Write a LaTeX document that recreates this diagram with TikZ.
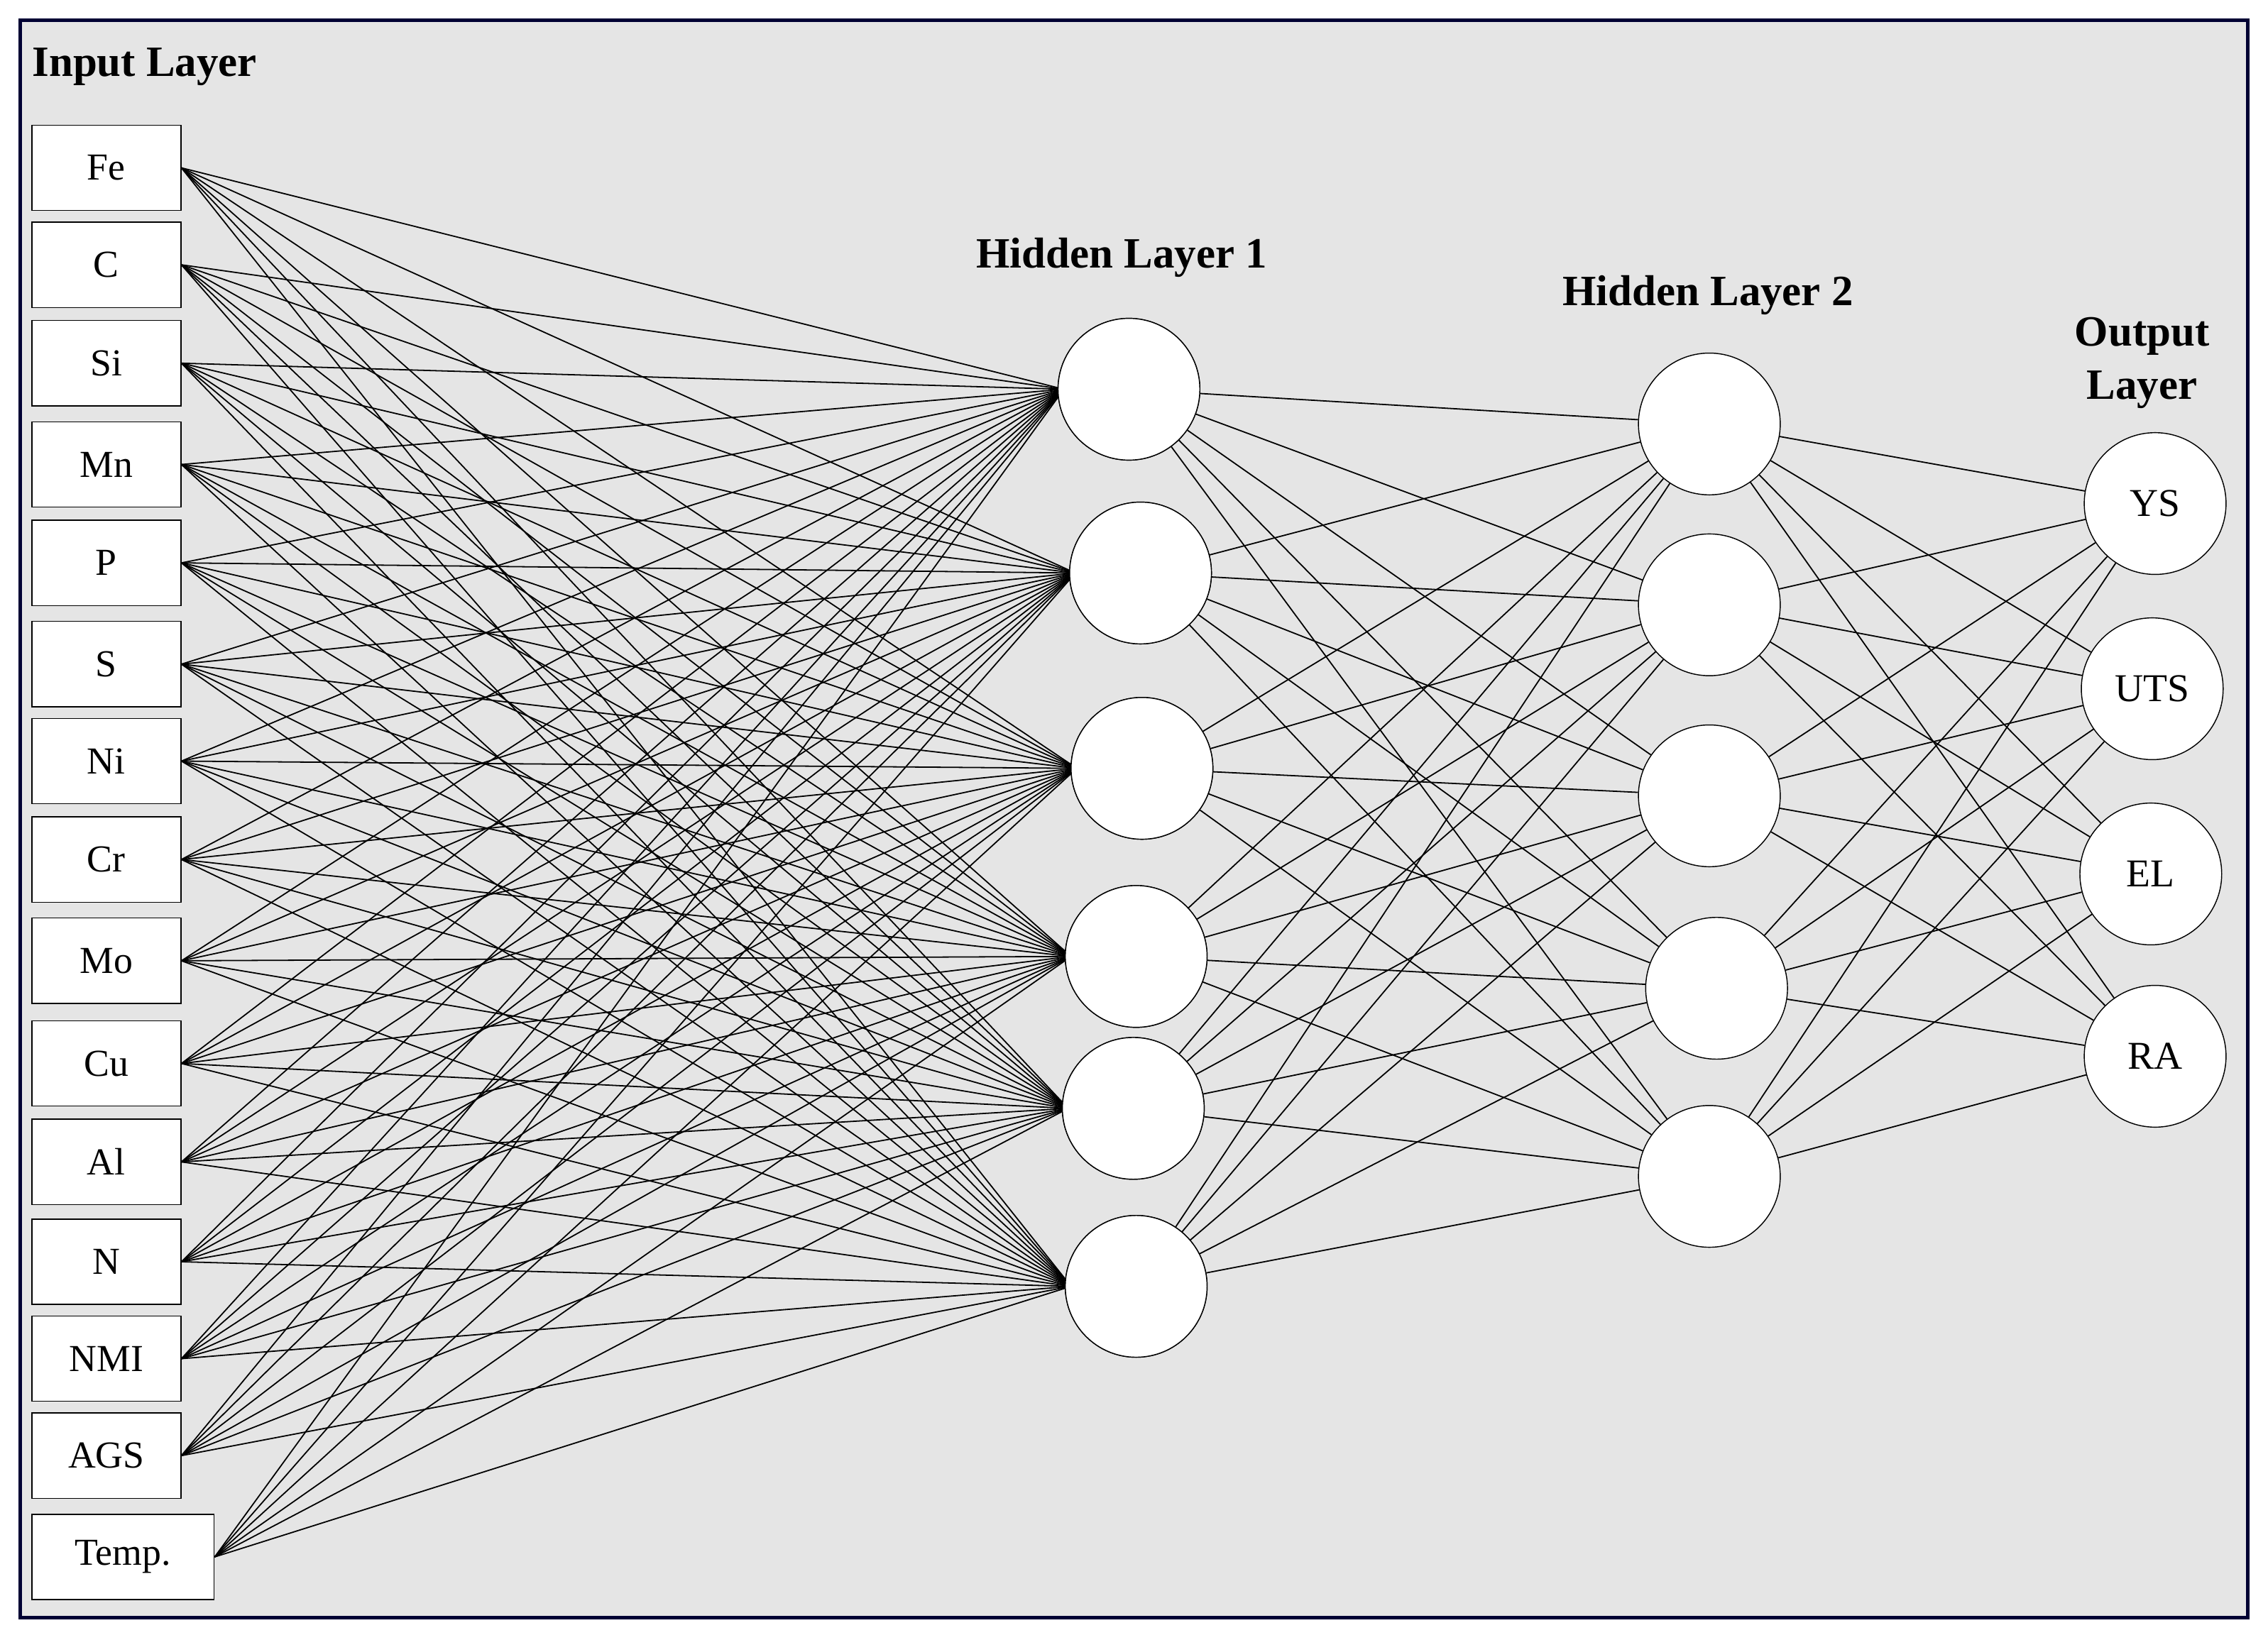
\documentclass[tikz,border=0pt]{standalone}
\usepackage{fontspec}
\setmainfont{Liberation Serif}
\begin{document}
\begin{tikzpicture}[x=0.02cm,y=-0.02cm,
 inp/.style={draw,fill=white,minimum width=2.06cm,minimum height=1.18cm,inner sep=0pt,font=\fontsize{15}{17}\selectfont},
 neu/.style={draw,fill=white,circle,minimum size=1.96cm,inner sep=0pt,font=\fontsize{15.5}{17}\selectfont},
 ttl/.style={font=\bfseries\fontsize{17}{21}\selectfont,align=center},
 con/.style={draw,line width=0.5pt}]
\useasboundingbox (0,0) rectangle (1567,1133);
\draw[fill=black!10,draw=black!80!blue,line width=1.4pt] (14,14) rectangle (1553,1118);
\node[ttl,anchor=west,inner sep=0pt] (tin) at (22,46) {Input Layer};
\node[ttl] (th1) at (775,178) {Hidden Layer 1};
\node[ttl] (th2) at (1180,204) {Hidden Layer 2};
\node[ttl] (tout) at (1480,251) {Output\\Layer};
\foreach \n/\t/\y in {1/Fe/116,2/C/183,3/Si/251,4/Mn/321,5/P/389,6/S/459,7/Ni/526,8/Cr/594,9/Mo/664,10/Cu/735,11/Al/803,12/N/872,13/NMI/939,14/AGS/1006}
  \node[inp] (i\n) at (73.5,\y) {\t};
\node[inp,minimum width=2.52cm] (i15) at (85,1076) {Temp.};
\foreach \n/\x/\y in {1/780/269,2/788/396,3/789/531,4/785/661,5/783/766,6/785/889}
  \node[neu] (a\n) at (\x,\y) {};
\foreach \n/\x/\y in {1/1181/293,2/1181/418,3/1181/550,4/1186/683,5/1181/813}
  \node[neu] (b\n) at (\x,\y) {};
\foreach \n/\t/\x/\y in {1/YS/1489/348,2/UTS/1487/476,3/EL/1486/604,4/RA/1489/730}
  \node[neu] (o\n) at (\x,\y) {\t};
\foreach \i in {1,...,15}
  \foreach \j in {1,...,6}
    \draw[con] (i\i.east) -- ([xshift=-0.9cm]a\j.center);
\foreach \i in {1,...,6}
  \foreach \j in {1,...,5}
    \draw[con] (a\i) -- (b\j);
\foreach \i in {1,...,5}
  \foreach \j in {1,...,4}
    \draw[con] (b\i) -- (o\j);
\foreach \n/\x/\y in {1/780/269,2/788/396,3/789/531,4/785/661,5/783/766,6/785/889}
  \node[neu] (a\n) at (\x,\y) {};
\end{tikzpicture}
\end{document}
